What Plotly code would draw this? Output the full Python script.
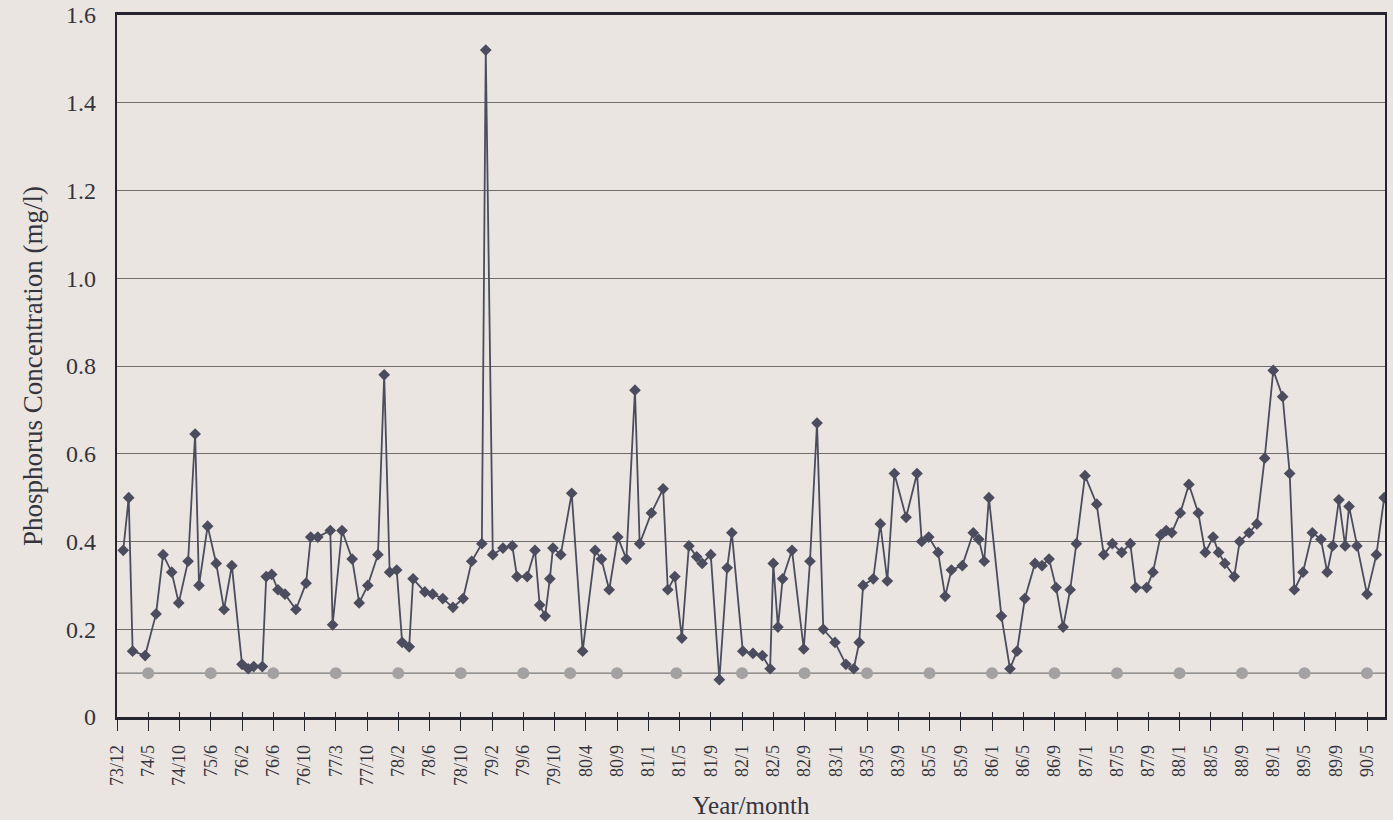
import plotly.graph_objects as go

# Axis labels: one label every four sampling slots (year/month of the sample)
tick_labels = [
    "73/12", "74/5", "74/10", "75/6", "76/2", "76/6", "76/10", "77/3", "77/10",
    "78/2", "78/6", "78/10", "79/2", "79/6", "79/10", "80/4", "80/9", "81/1",
    "81/5", "81/9", "82/1", "82/5", "82/9", "83/1", "83/5", "83/9", "85/5",
    "85/9", "86/1", "86/5", "86/9", "87/1", "87/5", "87/9", "88/1", "88/5",
    "88/9", "89/1", "89/5", "89/9", "90/5",
]
tick_step = 4

# Sample position along the time axis (label k sits at 4*k) and measured phosphorus (mg/l)
sample_pos = [
    0.8, 1.5, 2.0, 3.6, 5.0, 5.9, 7.0, 7.9, 9.1, 10.0, 10.5, 11.6, 12.7, 13.7, 14.7,
    16.0, 16.8, 17.5, 18.6, 19.1, 19.8, 20.6, 21.5, 22.9, 24.2, 24.8, 25.7, 27.3, 27.6,
    28.8, 30.1, 31.0, 32.1, 33.4, 34.2, 34.9, 35.8, 36.5, 37.4, 37.9, 39.4, 40.4, 41.7,
    43.0, 44.3, 45.4, 46.7, 47.2, 48.1, 49.4, 50.6, 51.2, 52.5, 53.5, 54.1, 54.8, 55.4,
    55.8, 56.8, 58.2, 59.6, 61.2, 62.0, 63.0, 64.1, 65.2, 66.3, 66.9, 68.4, 69.9, 70.5,
    71.4, 72.3, 73.2, 74.2, 74.9, 76.0, 77.1, 78.1, 78.7, 80.1, 81.4, 82.6, 83.6, 84.0,
    84.6, 85.2, 86.4, 87.9, 88.7, 89.6, 90.4, 91.9, 93.3, 94.3, 95.0, 95.5, 96.8, 97.7,
    98.6, 99.5, 101.0, 102.4, 103.0, 103.9, 105.1, 106.0, 106.8, 108.2, 109.6, 110.3,
    111.0, 111.6, 113.2, 114.3, 115.2, 116.2, 117.5, 118.4, 119.3, 120.2, 121.1, 122.0,
    122.8, 123.9, 125.4, 126.3, 127.4, 128.6, 129.7, 130.4, 131.8, 132.6, 133.6, 134.3,
    135.0, 136.1, 137.2, 138.4, 139.3, 140.3, 141.0, 141.8, 143.0, 143.7, 144.9, 145.9,
    146.9, 148.0, 149.2, 150.1, 150.7, 151.8, 153.0, 154.1, 154.9, 155.6, 156.4, 157.2,
    157.7, 158.7, 160.0, 161.2, 162.2,
]
phosphorus = [
    0.38, 0.50, 0.15, 0.14, 0.235, 0.37, 0.33, 0.26, 0.355, 0.645, 0.30, 0.435, 0.35,
    0.245, 0.345, 0.12, 0.11, 0.115, 0.115, 0.32, 0.325, 0.29, 0.28, 0.245, 0.305, 0.41,
    0.41, 0.425, 0.21, 0.425, 0.36, 0.26, 0.30, 0.37, 0.78, 0.33, 0.335, 0.17, 0.16,
    0.315, 0.285, 0.28, 0.27, 0.25, 0.27, 0.355, 0.395, 1.52, 0.37, 0.385, 0.39, 0.32,
    0.32, 0.38, 0.255, 0.23, 0.315, 0.385, 0.37, 0.51, 0.15, 0.38, 0.36, 0.29, 0.41,
    0.36, 0.745, 0.395, 0.465, 0.52, 0.29, 0.32, 0.18, 0.39, 0.365, 0.35, 0.37, 0.085,
    0.34, 0.42, 0.15, 0.145, 0.14, 0.11, 0.35, 0.205, 0.315, 0.38, 0.155, 0.355, 0.67,
    0.20, 0.17, 0.12, 0.11, 0.17, 0.30, 0.315, 0.44, 0.31, 0.555, 0.455, 0.555, 0.40,
    0.41, 0.375, 0.275, 0.335, 0.345, 0.42, 0.405, 0.355, 0.50, 0.23, 0.11, 0.15, 0.27,
    0.35, 0.345, 0.36, 0.295, 0.205, 0.29, 0.395, 0.55, 0.485, 0.37, 0.395, 0.375,
    0.395, 0.295, 0.295, 0.33, 0.415, 0.425, 0.42, 0.465, 0.53, 0.465, 0.375, 0.41,
    0.375, 0.35, 0.32, 0.40, 0.42, 0.44, 0.59, 0.79, 0.73, 0.555, 0.29, 0.33, 0.42,
    0.405, 0.33, 0.39, 0.495, 0.39, 0.48, 0.39, 0.28, 0.37, 0.50,
]

# Reference level (mg/l) and the positions of its markers
limit_level = 0.1
limit_pos = [4, 12, 20, 28, 36, 44, 52, 58, 64, 71.6, 80, 88, 96, 104, 112, 120,
             128, 136, 144, 152, 160]

y_ticks = [0, 0.2, 0.4, 0.6, 0.8, 1.0, 1.2, 1.4, 1.6]
y_tick_text = ["0", "0.2", "0.4", "0.6", "0.8", "1.0", "1.2", "1.4", "1.6"]

paper = "#ebe5e1"
ink = "#25252f"
text_color = "#34343c"
series_color = "#4b4c5e"
x_range = [0, 162.3]
x_tickvals = [tick_step * k for k in range(len(tick_labels))]

fig = go.Figure()

fig.add_hline(y=limit_level, line=dict(color="#7a7878", width=1.3), layer="below")

fig.add_trace(go.Scatter(
    x=limit_pos,
    y=[limit_level] * len(limit_pos),
    mode="markers",
    marker=dict(symbol="circle", size=12, color="#a3a1a1"),
    showlegend=False,
    hoverinfo="skip",
))

fig.add_trace(go.Scatter(
    x=sample_pos,
    y=phosphorus,
    mode="lines+markers",
    line=dict(color=series_color, width=1.8),
    marker=dict(symbol="diamond", size=9, color=series_color),
    showlegend=False,
))

# empty trace that brings up the twin axis holding the inward half of each tick
fig.add_trace(go.Scatter(x=[], y=[], xaxis="x2", yaxis="y", showlegend=False,
                         hoverinfo="skip"))

fig.update_layout(
    width=1393,
    height=820,
    margin=dict(l=117, r=8, t=15, b=103),
    paper_bgcolor=paper,
    plot_bgcolor=paper,
    font=dict(family="Liberation Serif, Times New Roman, serif", color=text_color),
    xaxis=dict(
        range=x_range,
        automargin=False,
        tickmode="array",
        tickvals=x_tickvals,
        ticktext=tick_labels,
        tickangle=-90,
        tickfont=dict(size=18),
        ticks="outside",
        ticklen=11,
        tickwidth=1.3,
        tickcolor=ink,
        ticklabelstandoff=7,
        showgrid=False,
        zeroline=False,
        showline=True,
        linecolor=ink,
        linewidth=2.5,
        mirror=True,
        title=dict(text="Year/month", font=dict(size=25), standoff=12),
    ),
    xaxis2=dict(
        overlaying="x",
        anchor="y",
        side="bottom",
        range=x_range,
        tickmode="array",
        tickvals=x_tickvals,
        showticklabels=False,
        ticks="inside",
        ticklen=5,
        tickwidth=1.3,
        tickcolor=ink,
        showgrid=False,
        zeroline=False,
        showline=False,
    ),
    yaxis=dict(
        range=[0, 1.6],
        automargin=False,
        tickmode="array",
        tickvals=y_ticks,
        ticktext=y_tick_text,
        tickfont=dict(size=24),
        ticks="",
        ticklabelstandoff=14,
        showgrid=True,
        gridcolor="#6f6d6d",
        gridwidth=1,
        zeroline=False,
        showline=True,
        linecolor=ink,
        linewidth=2.2,
        mirror=True,
        title=dict(text="Phosphorus Concentration (mg/l)", font=dict(size=27), standoff=16),
    ),
)

fig.write_html("out.html")
